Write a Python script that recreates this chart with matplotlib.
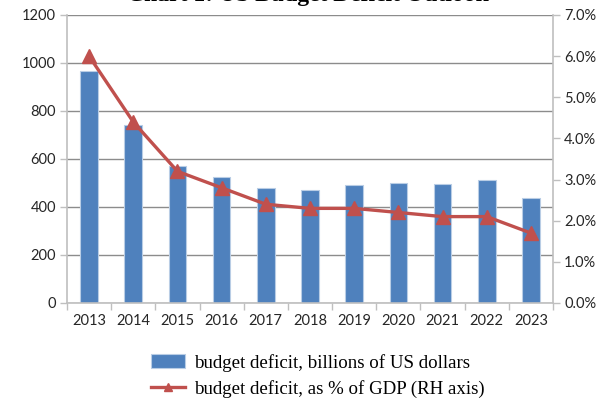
import matplotlib
matplotlib.use("Agg")
import matplotlib.pyplot as plt
import numpy as np

years = ["2013", "2014", "2015", "2016", "2017", "2018", "2019", "2020", "2021", "2022", "2023"]
deficit_bn = [968, 740, 570, 523, 480, 469, 492, 499, 495, 511, 437]
deficit_pct = [6.0, 4.4, 3.2, 2.8, 2.4, 2.3, 2.3, 2.2, 2.1, 2.1, 1.7]
left_ticks = [0, 200, 400, 600, 800, 1000, 1200]
right_ticks = [0, 1, 2, 3, 4, 5, 6, 7]

bar_color = "#4F81BD"
line_color = "#C0504D"
axis_gray = "#BFBFBF"
grid_gray = "#8C8C8C"
tick_font = "Lato"

fig = plt.figure(figsize=(6.15, 4.01), dpi=100)
ax = fig.add_axes([67/615, 1 - 303/401, (553-67)/615, (303-15)/401])
x = np.arange(len(years))

ax.bar(x, deficit_bn, width=0.4, color=bar_color, edgecolor="#B9CDE5", linewidth=0.8,
       zorder=2, label="budget deficit, billions of US dollars")
ax.set_ylim(0, 1200)
ax.set_xlim(-0.5, len(years) - 0.5)
ax.set_yticks(left_ticks)
ax.set_yticklabels([str(t) for t in left_ticks], fontfamily=tick_font, fontsize=10.5, color="#262626")
ax.yaxis.grid(True, color=grid_gray, linewidth=1.0, zorder=0)
ax.set_axisbelow(True)

ax.set_xticks(x)
ax.set_xticklabels(years, fontfamily=tick_font, fontsize=10.5, color="#262626")
ax.tick_params(axis="x", length=0, pad=8)
ax.set_xticks(np.arange(-0.5, len(years), 1.0), minor=True)
ax.tick_params(axis="x", which="minor", length=5, color=axis_gray, width=1)
ax.tick_params(axis="y", length=5, color=axis_gray, width=1, pad=3)

for side in ["top", "right"]:
    ax.spines[side].set_visible(False)
for side in ["left", "bottom"]:
    ax.spines[side].set_color(axis_gray)
    ax.spines[side].set_linewidth(1.2)

ax2 = ax.twinx()
ax2.plot(x, deficit_pct, color=line_color, linewidth=2.4, marker="^", markersize=10,
         markerfacecolor=line_color, markeredgecolor=line_color, zorder=3,
         label="budget deficit, as % of GDP (RH axis)")
ax2.set_ylim(0, 7)
ax2.set_yticks(right_ticks)
ax2.set_yticklabels([f"{t:.1f}%" for t in right_ticks], fontfamily=tick_font, fontsize=10.5, color="#262626")
ax2.tick_params(axis="y", length=5, color=axis_gray, width=1, pad=3)
for side in ["top", "left", "bottom"]:
    ax2.spines[side].set_visible(False)
ax2.spines["right"].set_color(axis_gray)
ax2.spines["right"].set_linewidth(1.2)

# title, cut off at the top edge as in the reference
fig.text(0.5, 1 - 1.5/401, "Chart 1: US Budget Deficit Outlook", ha="center", va="baseline",
         fontfamily="Liberation Serif", fontweight="bold", fontsize=17)

h1, l1 = ax.get_legend_handles_labels()
h2, l2 = ax2.get_legend_handles_labels()
leg = fig.legend(h1 + h2, l1 + l2, loc="center", bbox_to_anchor=(318/615, 1 - 376/401),
                 frameon=False, prop={"family": "Liberation Serif", "size": 13.6},
                 handlelength=1.8, handletextpad=0.5, labelspacing=0.45,
                 markerscale=0.6)

fig.savefig("out.png", dpi=100)
